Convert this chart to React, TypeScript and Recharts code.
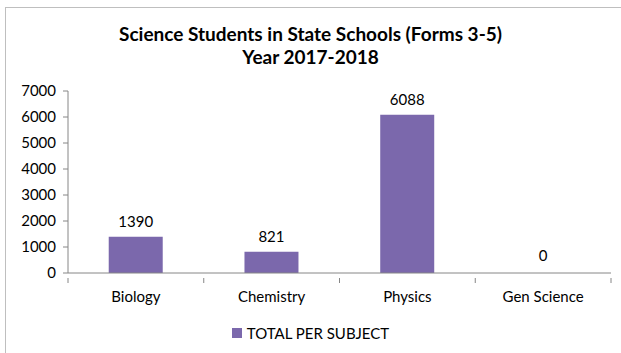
import { BarChart, Bar, XAxis, YAxis, LabelList, ReferenceDot } from 'recharts'

const subjects = ['Biology', 'Chemistry', 'Physics', 'Gen Science']
const totals = [1390, 821, 6088, 0]
const yTicks = [0, 1000, 2000, 3000, 4000, 5000, 6000, 7000]

const seriesName = 'TOTAL PER SUBJECT'
const barColor = '#7b68ac'
const axisColor = '#868686'
const font = 'Lato, "Open Sans", sans-serif'

const data = subjects.map((subject, i) => ({ subject, total: totals[i] }))

// ticks sit on the category boundaries, not the centres
const BoundaryTick = (props: any) => {
  const { x, y, payload, index } = props
  const band = (611 - 68) / subjects.length
  const left = x - band / 2
  return (
    <g>
      <line x1={left} y1={y - 1} x2={left} y2={y + 4} stroke={axisColor} />
      {index === subjects.length - 1 && (
        <line x1={x + band / 2} y1={y - 1} x2={x + band / 2} y2={y + 4} stroke={axisColor} />
      )}
      <text x={x} y={y + 23} textAnchor="middle" fill="#000" fontSize={15} fontFamily={font}>
        {payload.value}
      </text>
    </g>
  )
}

export default function App() {
  return (
    <div style={{ position: 'absolute', left: 0, top: 0, width: 621, height: 353, background: '#fff' }}>
      <div style={{ position: 'absolute', left: 5, top: 7, right: 0, bottom: 0, borderTop: '1px solid #bfbfbf', borderLeft: '1px solid #bfbfbf' }} />
      <div style={{ position: 'absolute', left: 0, width: 621, top: 22, textAlign: 'center', fontFamily: font, fontWeight: 'bold', fontSize: 19, lineHeight: '23px', color: '#000' }}>
        Science Students in State Schools (Forms 3-5)
        <br />
        Year 2017-2018
      </div>
      <BarChart width={621} height={353} data={data} margin={{ top: 91, right: 10, bottom: 40, left: 0 }} barCategoryGap="30%">
        <XAxis dataKey="subject" stroke={axisColor} tickLine={false} tickMargin={0} tick={<BoundaryTick />} interval={0} height={40} />
        <YAxis
          width={68}
          domain={[0, 7000]}
          ticks={yTicks}
          interval={0}
          stroke={axisColor}
          tickSize={5}
          tickMargin={7}
          tick={{ fill: '#000', fontSize: 15, fontFamily: font }}
        />
        <Bar dataKey="total" name={seriesName} fill={barColor} maxBarSize={54} isAnimationActive={false}>
          <LabelList dataKey="total" position="top" offset={10} fill="#000" fontSize={15} fontFamily={font} />
        </Bar>
        <ReferenceDot
          x="Gen Science"
          y={totals[3]}
          r={0}
          fill="none"
          stroke="none"
          label={{ value: totals[3], position: 'top', offset: 12, fill: '#000', fontSize: 15, fontFamily: font }}
        />
      </BarChart>
      <div style={{ position: 'absolute', left: 0, width: 621, top: 324, display: 'flex', alignItems: 'center', justifyContent: 'center', fontFamily: font, fontSize: 15, color: '#000' }}>
        <span style={{ display: 'inline-block', width: 10, height: 10, background: barColor, marginRight: 5 }} />
        {seriesName}
      </div>
    </div>
  )
}
